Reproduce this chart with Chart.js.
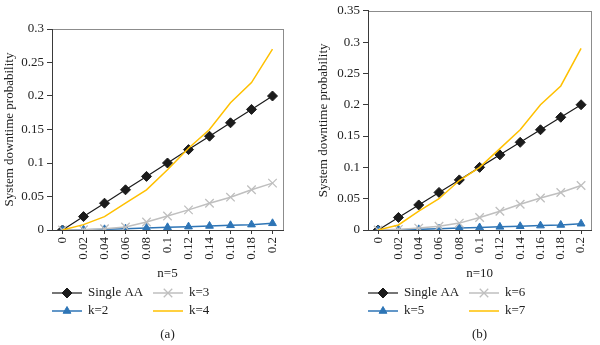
<!DOCTYPE html>
<html>
<head>
<meta charset="utf-8">
<script src="https://cdn.jsdelivr.net/npm/chart.js@4.4.0/dist/chart.umd.min.js"></script>
<style>
  html, body { margin: 0; padding: 0; background: #fff; }
  .panel { position: absolute; top: 0; width: 300px; height: 345px; }
  #panelA { left: 0; }
  #panelB { left: 300px; }
</style>
</head>
<body>
<div class="panel" id="panelA"><canvas id="chartA" width="300" height="345"></canvas></div>
<div class="panel" id="panelB"><canvas id="chartB" width="300" height="345"></canvas></div>
<script>
// failure probability of a single AA (x axis)
const pLabels = ['0', '0.02', '0.04', '0.06', '0.08', '0.1', '0.12', '0.14', '0.16', '0.18', '0.2'];

// n=5
const singleA = [0, 0.02, 0.04, 0.06, 0.08, 0.1, 0.12, 0.14, 0.16, 0.18, 0.2];
const k2 = [0, 0.0005, 0.001, 0.002, 0.003, 0.004, 0.005, 0.006, 0.007, 0.008, 0.01];
const k3 = [0, 0.0005, 0.002, 0.0045, 0.012, 0.021, 0.03, 0.04, 0.049, 0.06, 0.07];
const k4 = [0, 0.008, 0.02, 0.04, 0.06, 0.09, 0.122, 0.15, 0.19, 0.22, 0.27];
const yTicksA = [0, 0.05, 0.1, 0.15, 0.2, 0.25, 0.3];

// n=10
const singleB = [0, 0.02, 0.04, 0.06, 0.08, 0.1, 0.12, 0.14, 0.16, 0.18, 0.2];
const k5 = [0, 0.0005, 0.001, 0.002, 0.003, 0.004, 0.005, 0.006, 0.007, 0.008, 0.01];
const k6 = [0, 0.001, 0.003, 0.006, 0.011, 0.02, 0.03, 0.041, 0.051, 0.06, 0.071];
const k7 = [0, 0.008, 0.03, 0.05, 0.079, 0.1, 0.13, 0.16, 0.2, 0.23, 0.29];
const yTicksB = [0, 0.05, 0.1, 0.15, 0.2, 0.25, 0.3, 0.35];

const FONT = '"Liberation Serif", "DejaVu Serif", serif';
const TEXT = '#222';
const AXIS = '#3a3a3a';

// grey box around the plot area, axes get drawn over its left/bottom edges
const framePlugin = {
  id: 'frame',
  beforeDraw(chart) {
    const { ctx, chartArea: a } = chart;
    ctx.save();
    ctx.strokeStyle = '#8c8c8c';
    ctx.lineWidth = 1;
    ctx.strokeRect(Math.round(a.left) + 0.5, Math.round(a.top) + 0.5,
      Math.round(a.right - a.left), Math.round(a.bottom - a.top));
    ctx.restore();
  }
};

// 2x2 legend under the axis plus the panel caption
const gridLegend = {
  id: 'gridLegend',
  afterDraw(chart, args, opts) {
    const { ctx, chartArea: a } = chart;
    const ds = chart.data.datasets;
    ctx.save();
    ctx.font = '13px ' + FONT;
    ctx.textBaseline = 'middle';
    ctx.textAlign = 'left';
    opts.slots.forEach((slot, i) => {
      const d = ds[i];
      const x0 = Math.round(a.left) + slot.col * 101;
      const y = opts.top + slot.row * 18;
      ctx.strokeStyle = d.borderColor;
      ctx.lineWidth = d.borderWidth;
      ctx.beginPath();
      ctx.moveTo(x0, y);
      ctx.lineTo(x0 + 30, y);
      ctx.stroke();
      if (d.pointRadius) {
        ctx.fillStyle = d.pointBackgroundColor;
        ctx.strokeStyle = d.pointBorderColor;
        ctx.lineWidth = d.pointBorderWidth;
        Chart.helpers.drawPoint(ctx, {
          pointStyle: d.pointStyle, radius: d.pointRadius,
          rotation: 0, borderWidth: d.pointBorderWidth
        }, x0 + 15, y);
      }
      ctx.fillStyle = TEXT;
      ctx.fillText(d.label, x0 + 36, y);
    });
    ctx.textAlign = 'center';
    ctx.fillText(opts.caption, (a.left + a.right) / 2, opts.captionY);
    ctx.restore();
  }
};

function series(label, data, color, style, radius, order, width) {
  return {
    label, data, order,
    borderColor: color,
    backgroundColor: color,
    borderWidth: width,
    pointStyle: style,
    pointRadius: radius,
    pointHoverRadius: radius,
    pointBackgroundColor: color,
    pointBorderColor: color,
    pointBorderWidth: style === 'crossRot' ? 1.3 : 1,
    tension: 0,
    fill: false
  };
}

function makeChart(id, sets, yTicks, yMax, xTitle, caption, pad, yWidth) {
  return new Chart(document.getElementById(id), {
    type: 'line',
    data: {
      labels: pLabels,
      datasets: [
        series(sets[0][0], sets[0][1], '#1b1b1b', 'rectRot', 5, 4, 1.2),
        series(sets[1][0], sets[1][1], '#2e75b6', 'triangle', 4.5, 3, 1.5),
        series(sets[2][0], sets[2][1], '#bfbfbf', 'crossRot', 6, 2, 1.5),
        series(sets[3][0], sets[3][1], '#ffc000', 'circle', 0, 1, 1.5)
      ]
    },
    options: {
      responsive: false,
      animation: false,
      devicePixelRatio: 1,
      layout: { padding: pad },
      plugins: {
        legend: { display: false },
        tooltip: { enabled: false },
        gridLegend: {
          top: 293,
          captionY: 335,
          caption,
          slots: [{ col: 0, row: 0 }, { col: 0, row: 1 }, { col: 1, row: 0 }, { col: 1, row: 1 }]
        }
      },
      scales: {
        x: {
          offset: true,
          grid: { offset: false, drawOnChartArea: false, drawTicks: true, tickLength: 4, color: AXIS },
          border: { color: AXIS, width: 1 },
          ticks: {
            minRotation: 90, maxRotation: 90, autoSkip: false, padding: 3,
            color: TEXT, font: { family: FONT, size: 13 }
          },
          title: {
            display: true, text: xTitle, color: TEXT,
            font: { family: FONT, size: 13 }, padding: { top: 2, bottom: 4 }
          },
          afterFit(scale) { scale.height = 55; }
        },
        y: {
          min: 0, max: yMax,
          afterBuildTicks(scale) { scale.ticks = yTicks.map(v => ({ value: v })); },
          grid: { drawOnChartArea: false, drawTicks: true, tickLength: 5, color: AXIS },
          border: { color: AXIS, width: 1 },
          ticks: {
            padding: 3, color: TEXT, font: { family: FONT, size: 13 },
            callback: v => String(+Number(v).toFixed(2))
          },
          title: {
            display: true, text: 'System downtime probability', color: TEXT,
            font: { family: FONT, size: 13 }, padding: { top: 2, bottom: 2 }
          },
          afterFit(scale) { scale.width = yWidth; }
        }
      }
    },
    plugins: [framePlugin, gridLegend]
  });
}

makeChart('chartA',
  [['Single AA', singleA], ['k=2', k2], ['k=3', k3], ['k=4', k4]],
  yTicksA, 0.3, 'n=5', '(a)',
  { left: 0, right: 17, top: 29, bottom: 60 }, 52);

makeChart('chartB',
  [['Single AA', singleB], ['k=5', k5], ['k=6', k6], ['k=7', k7]],
  yTicksB, 0.35, 'n=10', '(b)',
  { left: 14, right: 2, top: 8, bottom: 60 }, 54);
</script>
</body>
</html>
